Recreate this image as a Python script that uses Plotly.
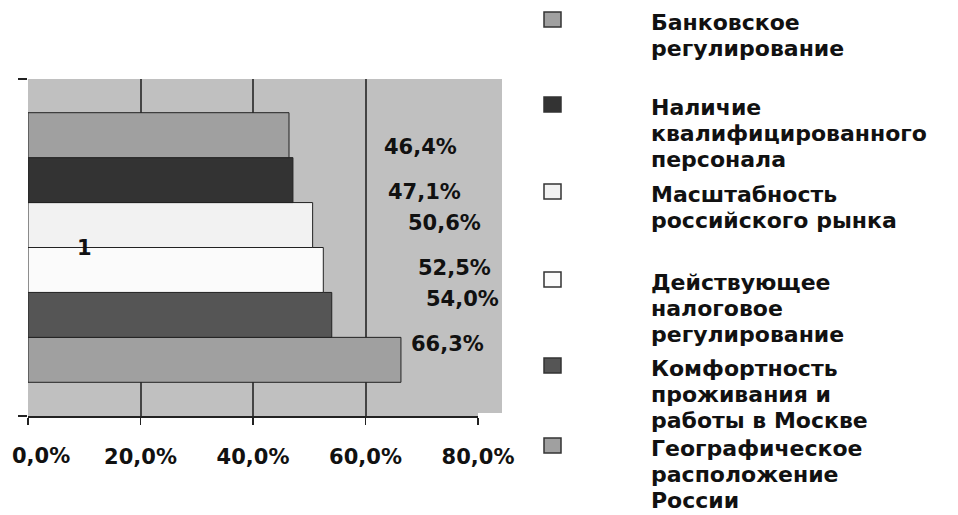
import plotly.graph_objects as go

# Data (legend order, top to bottom)
category = ["1"]
series_names = [
    "Банковское<br>регулирование",
    "Наличие<br>квалифицированного<br>персонала",
    "Масштабность<br>российского рынка",
    "Действующее<br>налоговое<br>регулирование",
    "Комфортность<br>проживания и<br>работы в Москве",
    "Географическое<br>расположение<br>России",
]
values = [46.4, 47.1, 50.6, 52.5, 54.0, 66.3]
value_labels = ["46,4%", "47,1%", "50,6%", "52,5%", "54,0%", "66,3%"]
tick_vals = [0, 20, 40, 60, 80]
tick_text = ["0,0%", "20,0%", "40,0%", "60,0%", "80,0%"]

# Styling / layout
colors = ["#a0a0a0", "#333333", "#f2f2f2", "#fbfbfb", "#555555", "#a0a0a0"]
label_x = [69.7, 70.4, 74.1, 75.9, 77.2, 74.5]  # manual label placement (data units)
legend_first_line_px = [22, 107, 194, 282, 368, 448]  # legend entry positions (px from top)
LINE_PX = 26.0
FONT = "DejaVu Sans"
W, H = 958, 515
ML, MR, MT, MB = 28, 480, 79, 99
PW, PH = W - ML - MR, H - MT - MB


def px_x(px):
    return (px - ML) / PW


def px_y(py):
    return (H - MB - py) / PH


fig = go.Figure()
n = len(values)
# plotly draws grouped horizontal bars bottom-up, so add in reverse order
for i in reversed(range(n)):
    fig.add_trace(go.Bar(
        y=category, x=[values[i]], orientation="h",
        name=series_names[i].replace("<br>", " "),
        marker=dict(color=colors[i], line=dict(color="#222222", width=1)),
        hoverinfo="skip", showlegend=False,
    ))

bold = dict(family=FONT, size=21, color="#111111", weight="bold")
annotations = []
for i in range(n):
    ycenter = 0.9 - (i + 0.5) * 0.8 / n
    annotations.append(dict(
        x=label_x[i], xref="x", y=ycenter, yref="paper", yshift=2,
        text=value_labels[i], showarrow=False, font=bold,
    ))
annotations.append(dict(
    x=10.1, xref="x", y=0.5, yref="paper", text=category[0], showarrow=False,
    font=bold,
))
# the first tick label sits a little right of its tick in the original
annotations.append(dict(
    x=tick_vals[0], xref="x", xshift=13, y=px_y(456), yref="paper",
    yanchor="middle", text=tick_text[0], showarrow=False, font=bold, borderpad=0,
))
shown_ticks = ["" if v == tick_vals[0] else t for v, t in zip(tick_vals, tick_text)]

# Legend (drawn manually so it can run to the bottom edge like the original)
shapes = [dict(
    type="rect", xref="paper", yref="paper", x0=1, x1=px_x(502), y0=px_y(413), y1=1,
    fillcolor="#c0c0c0", line=dict(width=0), layer="below",
)]
legend_font = dict(family=FONT, size=22, color="#111111", weight="bold")
for i in range(n):
    y0 = legend_first_line_px[i]
    shapes.append(dict(
        type="rect", xref="paper", yref="paper",
        x0=px_x(544), x1=px_x(561), y0=px_y(y0 + 5), y1=px_y(y0 - 10),
        fillcolor=colors[i], line=dict(color="#333333", width=1.5),
    ))
    for j, line in enumerate(series_names[i].split("<br>")):
        annotations.append(dict(
            x=px_x(650), y=px_y(y0 + j * LINE_PX), xref="paper", yref="paper",
            xanchor="left", yanchor="middle", text=line, showarrow=False,
            font=legend_font, borderpad=0,
        ))

fig.update_layout(
    width=W, height=H,
    margin=dict(l=ML, r=MR, t=MT, b=MB, autoexpand=False),
    paper_bgcolor="white", plot_bgcolor="#c0c0c0",
    barmode="group", bargap=0.2, bargroupgap=0,
    font=bold,
    showlegend=False,
    xaxis=dict(
        range=[0, 80], tickvals=tick_vals, ticktext=shown_ticks,
        showgrid=True, gridcolor="#444444", gridwidth=2,
        showline=True, linecolor="#222222", linewidth=1.5,
        ticks="outside", ticklen=7, tickcolor="#222222", tickwidth=1.5,
        ticklabelstandoff=14, ticklabeloverflow="allow",
        zeroline=False, fixedrange=True, automargin=False,
    ),
    yaxis=dict(
        type="category", tickson="boundaries", ticks="outside", ticklen=9,
        tickcolor="#222222", tickwidth=1.5, showticklabels=False,
        showgrid=False, showline=False, fixedrange=True, automargin=False,
    ),
    annotations=annotations,
    shapes=shapes,
)

fig.write_html(
    "out.html",
    config={"displayModeBar": False, "staticPlot": True},
    post_script="document.body.style.margin='0';document.body.style.overflow='hidden';",
)
